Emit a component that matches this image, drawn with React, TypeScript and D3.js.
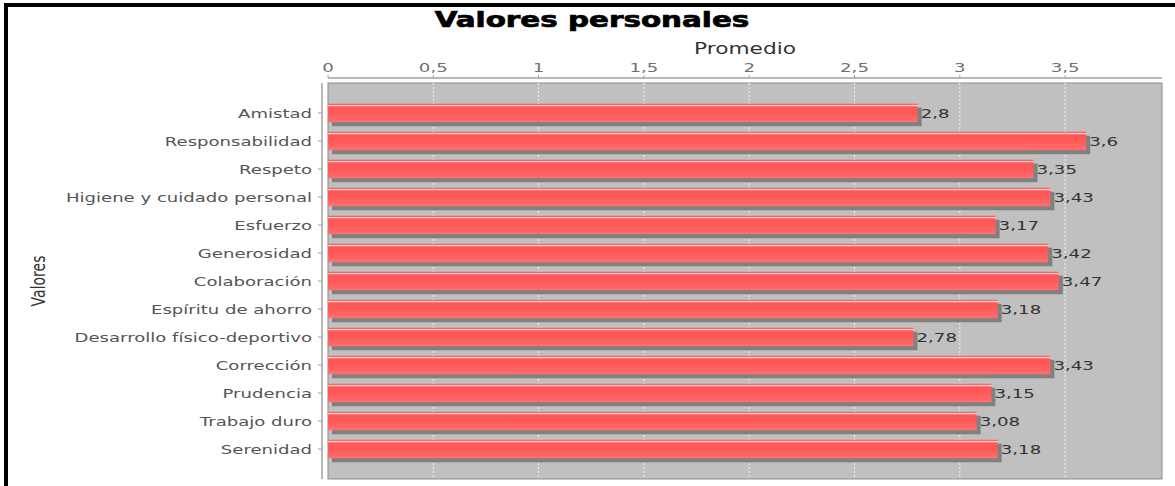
import React from "react";
import * as d3 from "d3";

const categories = [
  "Amistad",
  "Responsabilidad",
  "Respeto",
  "Higiene y cuidado personal",
  "Esfuerzo",
  "Generosidad",
  "Colaboración",
  "Espíritu de ahorro",
  "Desarrollo físico-deportivo",
  "Corrección",
  "Prudencia",
  "Trabajo duro",
  "Serenidad",
];
const values = [2.8, 3.6, 3.35, 3.43, 3.17, 3.42, 3.47, 3.18, 2.78, 3.43, 3.15, 3.08, 3.18];
const xTicks = [0, 0.5, 1, 1.5, 2, 2.5, 3, 3.5];
const title = "Valores personales";
const xAxisTitle = "Promedio";
const yAxisTitle = "Valores";

const W = 1175;
const H = 486;
const SX = 1.4; // horizontal stretch of the reference rendering
const plot = { left: 328, right: 1162, top: 83, bottom: 479 };

const locale = d3.formatLocale({ decimal: ",", thousands: ".", grouping: [3], currency: ["", "€"] });
const fmt = locale.format("~g");

export default function App() {
  const x = d3.scaleLinear().domain([0, 3.6 * 1.1]).range([plot.left, plot.right]);
  const y = d3
    .scaleBand<string>()
    .domain(categories)
    .range([plot.top, plot.bottom])
    .paddingInner(0.34)
    .paddingOuter(0.74);
  const bh = y.bandwidth();
  const font = "'DejaVu Sans', Verdana, sans-serif";

  return (
    <svg
      width={W}
      height={H}
      style={{ position: "absolute", left: 0, top: 0, background: "#fff" }}
      fontFamily={font}
    >
      <defs>
        <linearGradient id="barGrad" x1="0" y1="0" x2="0" y2="1">
          <stop offset="0" stopColor="#ff5a5a" />
          <stop offset="0.05" stopColor="#ff6464" />
          <stop offset="0.07" stopColor="#ffdcdc" />
          <stop offset="0.12" stopColor="#ffc4c4" />
          <stop offset="0.16" stopColor="#ff5656" />
          <stop offset="0.6" stopColor="#ff5c5c" />
          <stop offset="1" stopColor="#ff7070" />
        </linearGradient>
      </defs>
      <rect x={0} y={0} width={W} height={H} fill="#fff" />
      {/* outer frame (left & top) */}
      <rect x={4} y={3} width={4} height={H} fill="#000" />
      <rect x={4} y={3} width={W} height={4} fill="#000" />

      {/* title */}
      <text
        transform={`translate(592,27) scale(${SX},1)`}
        textAnchor="middle"
        fontSize={21}
        fontWeight="bold"
        fill="#000"
        stroke="#000"
        strokeWidth={0.7}
      >
        {title}
      </text>

      {/* x axis title */}
      <text
        transform={`translate(${(plot.left + plot.right) / 2},54) scale(${SX},1)`}
        textAnchor="middle"
        fontSize={15.5}
        fill="#333"
      >
        {xAxisTitle}
      </text>

      {/* plot background */}
      <rect
        x={plot.left}
        y={plot.top}
        width={plot.right - plot.left}
        height={plot.bottom - plot.top}
        fill="#c0c0c0"
        stroke="#8c8c8c"
        strokeWidth={1}
      />

      {/* gridlines */}
      {xTicks
        .filter((t) => t > 0)
        .map((t) => (
          <line
            key={"g" + t}
            x1={x(t)}
            x2={x(t)}
            y1={plot.top}
            y2={plot.bottom}
            stroke="#f2f2f2"
            strokeWidth={1}
            strokeDasharray="2,2"
          />
        ))}

      {/* top axis */}
      <line x1={plot.left} x2={plot.right} y1={78} y2={78} stroke="#a0a0a0" strokeWidth={1.5} />
      {xTicks.map((t) => (
        <g key={"t" + t}>
          <line x1={x(t)} x2={x(t)} y1={75} y2={78} stroke="#a0a0a0" strokeWidth={1} />
          <text
            transform={`translate(${x(t)},72) scale(${SX},1)`}
            textAnchor="middle"
            fontSize={13}
            fill="#707070"
          >
            {fmt(t)}
          </text>
        </g>
      ))}

      {/* left axis */}
      <line x1={322} x2={322} y1={plot.top} y2={plot.bottom} stroke="#a0a0a0" strokeWidth={1.5} />
      {categories.map((c) => {
        const cy = (y(c) as number) + bh / 2;
        return (
          <g key={"c" + c}>
            <line x1={318} x2={322} y1={cy} y2={cy} stroke="#a0a0a0" strokeWidth={1} />
            <text
              transform={`translate(312,${cy}) scale(${SX},1)`}
              textAnchor="end"
              dy="0.36em"
              fontSize={12.9}
              fill="#555"
            >
              {c}
            </text>
          </g>
        );
      })}

      {/* y axis title */}
      <text
        transform={`translate(45,${(plot.top + plot.bottom) / 2}) scale(${SX},1) rotate(-90)`}
        textAnchor="middle"
        fontSize={14}
        fill="#333"
      >
        {yAxisTitle}
      </text>

      {/* bars */}
      {categories.map((c, i) => {
        const by = y(c) as number;
        const x0 = x(0);
        const x1 = x(values[i]);
        return (
          <g key={"b" + c}>
            <rect x={x0 + 4} y={by + 4} width={x1 - x0} height={bh} fill="#808080" />
            <rect x={x0} y={by} width={x1 - x0} height={bh} fill="url(#barGrad)" />
            <text
              transform={`translate(${x1 + 3},${by + bh / 2}) scale(${SX},1)`}
              dy="0.36em"
              fontSize={13}
              fill="#333"
            >
              {fmt(values[i])}
            </text>
          </g>
        );
      })}
    </svg>
  );
}
